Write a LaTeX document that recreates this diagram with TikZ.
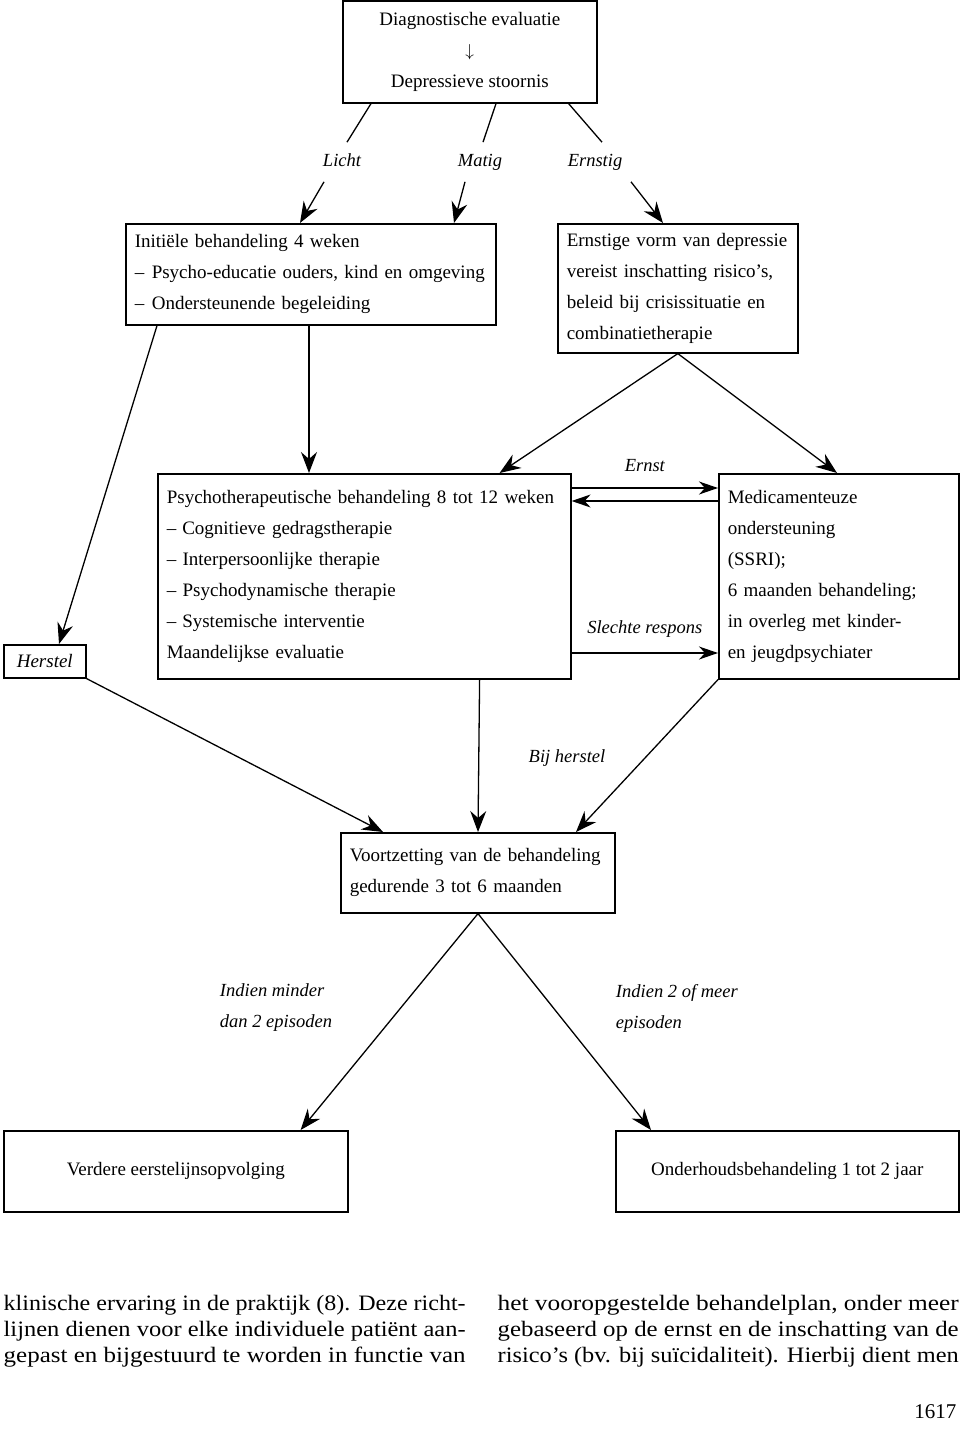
\documentclass[tikz,border=0pt]{standalone}
\usepackage{fontspec}
\setmainfont{Liberation Serif}
\usepackage{graphicx}
\usetikzlibrary{arrows.meta,positioning}

\begin{document}
\begin{tikzpicture}[->,>={Stealth[length=21pt,width=16pt,inset=7pt]},x=1pt,y=-1pt,line width=1.3pt]
\tikzstyle{box}=[draw=black,line width=1.6pt,align=left,inner xsep=9pt,inner ysep=0pt,anchor=north west,font=\fontsize{19}{31}\selectfont]
\tikzstyle{cbox}=[draw=black,line width=1.6pt,align=center,inner sep=0pt,anchor=north west,font=\fontsize{19}{31}\selectfont]
\tikzstyle{lbl}=[font=\fontsize{18.5}{31}\selectfont\itshape]
\tikzstyle{tag}=[lbl,text height=13pt,text depth=4pt,outer sep=8pt]
\tikzstyle{body}=[anchor=base west,inner sep=0pt,font=\fontsize{22}{26}\selectfont]
\tikzstyle{side}=[>={Stealth[length=19pt,width=13pt,inset=6pt]}]
\useasboundingbox (0,0) rectangle (960,1431);

% boxes
\node[cbox,minimum width=254,minimum height=102] (diag) at (342,0) {Diagnostische evaluatie\\$\downarrow$\\Depressieve stoornis};
\node[box,text width=352,minimum height=101] (init) at (125,223) {Initiële behandeling 4 weken\\--\hspace{7.5pt}Psycho-educatie ouders, kind en omgeving\\--\hspace{7.5pt}Ondersteunende begeleiding};
\node[box,text width=222,minimum height=129] (sev) at (557,223) {Ernstige vorm van depressie\\vereist inschatting risico’s,\\beleid bij crisissituatie en\\combinatietherapie};
\node[cbox,minimum width=82,minimum height=33,font=\fontsize{19}{31}\selectfont\itshape] (herstel) at (3,644) {Herstel};
\node[box,text width=395,minimum height=205] (psycho) at (157,473) {Psychotherapeutische behandeling 8 tot 12 weken\\--\hspace{6pt}Cognitieve gedragstherapie\\-- Interpersoonlijke therapie\\-- Psychodynamische therapie\\--\hspace{6pt}Systemische interventie\\Maandelijkse evaluatie};
\node[box,text width=222,minimum height=205] (medic) at (718,473) {Medicamenteuze\\ondersteuning\\(SSRI);\\6 maanden behandeling;\\in overleg met kinder-\\en jeugdpsychiater};
\node[box,text width=256,minimum height=80] (voortz) at (340,832) {Voortzetting van de behandeling\\gedurende 3 tot 6 maanden};
\node[cbox,minimum width=344,minimum height=81] (verdere) at (3,1130) {Verdere eerstelijnsopvolging};
\node[cbox,minimum width=343,minimum height=81] (onder) at (615,1130) {Onderhoudsbehandeling 1 tot 2 jaar};

% labels
\node[tag] (licht) at (342,162) {Licht};
\node[tag] (matig) at (480,162) {Matig};
\node[tag] (ernstig) at (595,162) {Ernstig};
\node[lbl] (bijherstel) at (567,758) {Bij herstel};
\node[lbl,anchor=west,align=left] (minder) at (216,1008) {Indien minder\\dan 2 episoden};
\node[lbl,anchor=west,align=left] (meer) at (612,1008) {Indien 2 of meer\\episoden};

% connectors
\draw[-] ([xshift=29]diag.south west) -- ([xshift=5]licht.north);
\draw[-] ([xshift=154]diag.south west) -- ([xshift=3]matig.north);
\draw[-] ([xshift=-29]diag.south east) -- ([xshift=7]ernstig.north);
\draw ([xshift=-18]licht.south) -- ([xshift=175]init.north west);
\draw ([xshift=-15]matig.south) -- ([xshift=329]init.north west);
\draw ([xshift=36]ernstig.south) -- ([xshift=106]sev.north west);
\draw ([xshift=32]init.south west) -- ([xshift=56]herstel.north west);
\draw ([xshift=184]init.south west) -- ([xshift=152]psycho.north west);
\draw (sev.south) -- ([xshift=-72]psycho.north east);
\draw (sev.south) -- ([xshift=119]medic.north west);
\draw[side] ([yshift=-15]psycho.north east) -- node[lbl,above=12pt] (ernst) {Ernst} ([yshift=-15]medic.north west);
\draw[side] ([yshift=-28]medic.north west) -- ([yshift=-28]psycho.north east);
\draw[side] ([yshift=-180]psycho.north east) -- node[lbl,above=12pt] (slecht) {Slechte respons} ([yshift=-180]medic.north west);
\draw (herstel.south east) -- ([xshift=43]voortz.north west);
\draw ([xshift=-92]psycho.south east) -- ([xshift=138]voortz.north west);
\draw (medic.south west) -- ([xshift=236]voortz.north west);
\draw ([xshift=138]voortz.south west) -- ([xshift=-48]verdere.north east);
\draw ([xshift=138]voortz.south west) -- ([xshift=36]onder.north west);

% running text below the figure
\node[body] (la) at (3,1310) {\resizebox{462pt}{\height}{klinische ervaring in de praktijk (8). Deze richt-}};
\node[body] (lb) at (3,1336) {\resizebox{462pt}{\height}{lijnen dienen voor elke individuele patiënt aan-}};
\node[body] (lc) at (3,1362) {\resizebox{462pt}{\height}{gepast en bijgestuurd te worden in functie van}};
\node[body] (ra) at (497,1310) {\resizebox{461pt}{\height}{het vooropgestelde behandelplan, onder meer}};
\node[body] (rb) at (497,1336) {\resizebox{461pt}{\height}{gebaseerd op de ernst en de inschatting van de}};
\node[body] (rc) at (497,1362) {\resizebox{461pt}{\height}{risico’s (bv. bij suïcidaliteit). Hierbij dient men}};
\node[body,anchor=base east,font=\fontsize{21}{26}\selectfont] (pagenr) at (957,1418) {1617};
\end{tikzpicture}
\end{document}
